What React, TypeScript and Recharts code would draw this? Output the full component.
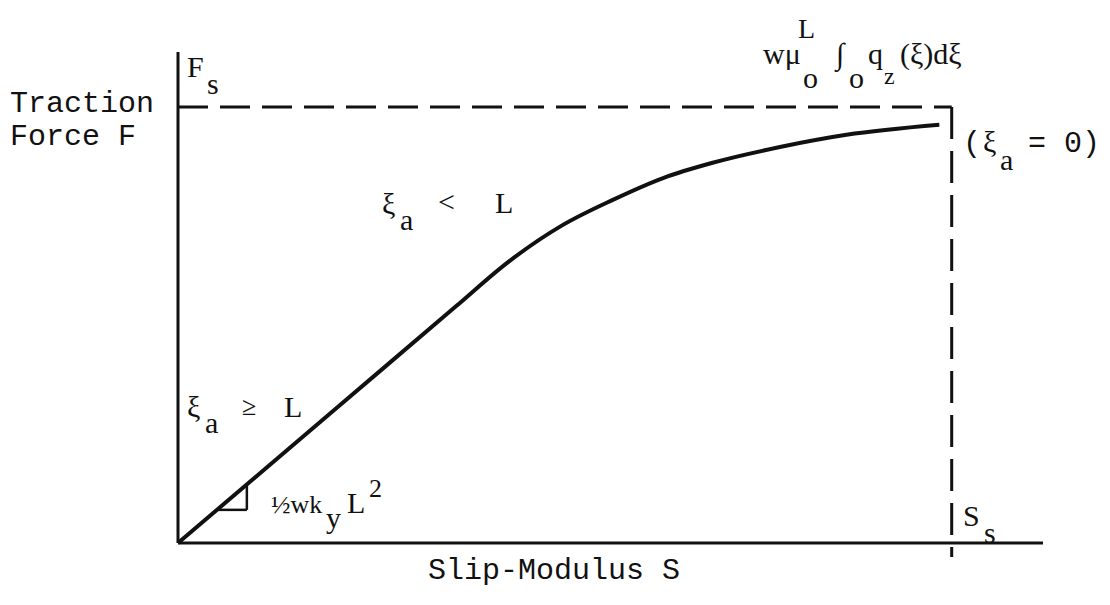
import React from 'react';
import { LineChart, Line, XAxis, YAxis, ReferenceLine } from 'recharts';

// Slip modulus S (normalised to S_s = 1) and traction force F (normalised to F_s = 1)
const slip = [0, 0.2, 0.36, 0.425, 0.497, 0.562, 0.627, 0.691, 0.778, 0.864, 0.984];
const traction = [0, 0.302, 0.544, 0.642, 0.729, 0.787, 0.837, 0.872, 0.908, 0.936, 0.959];

// saturation point (S_s, F_s)
const slipSat = 1;
const forceSat = 1;

// small slope triangle on the linear branch
const triS = [0.05, 0.089];
const triF = [0.076, 0.134];

const data = slip.map((s, i) => ({ s, f: traction[i] }));

const INK = '#111';
const MONO = '"Liberation Mono", "DejaVu Sans Mono", monospace';
const SERIF = '"Liberation Serif", "DejaVu Serif", serif';

function T({
  x,
  y,
  size = 30,
  font = SERIF,
  children,
}: {
  x: number;
  y: number;
  size?: number;
  font?: string;
  children: React.ReactNode;
}) {
  return (
    <text x={x} y={y} fontSize={size} fontFamily={font} fill={INK}>
      {children}
    </text>
  );
}

function Annotations() {
  return (
    <g>
      {/* axis titles */}
      <T x={10} y={112} font={MONO}>Traction</T>
      <T x={10} y={145} font={MONO}>Force F</T>
      <T x={428} y={579} font={MONO}>Slip-Modulus S</T>

      {/* F_s */}
      <T x={187} y={77}>F</T>
      <T x={207} y={94}>s</T>

      {/* S_s */}
      <T x={963} y={526}>S</T>
      <T x={984} y={543}>s</T>

      {/* saturation formula */}
      <T x={798} y={38} size={28}>L</T>
      <T x={763} y={64}>wμ</T>
      <T x={803} y={88}>o</T>
      <T x={836} y={64}>∫</T>
      <T x={849} y={88}>o</T>
      <T x={868} y={64}>q</T>
      <T x={884} y={84} size={24}>z</T>
      <T x={900} y={64}>(ξ)dξ</T>

      {/* (ξa = 0) */}
      <T x={963} y={152} font={MONO}>(</T>
      <T x={983} y={152}>ξ</T>
      <T x={1000} y={170}>a</T>
      <T x={1028} y={152} font={MONO}>=</T>
      <T x={1064} y={152} font={MONO}>0)</T>

      {/* ξa < L */}
      <T x={382} y={214}>ξ</T>
      <T x={400} y={230}>a</T>
      <T x={438} y={212}>&lt;</T>
      <T x={495} y={213}>L</T>

      {/* ξa ≥ L */}
      <T x={187} y={417}>ξ</T>
      <T x={205} y={433}>a</T>
      <T x={242} y={415} size={26}>≥</T>
      <T x={284} y={417}>L</T>

      {/* ½ w k_y L² */}
      <T x={271} y={513} size={26}>½wk</T>
      <T x={326} y={528}>y</T>
      <T x={347} y={513}>L</T>
      <T x={369} y={497} size={26}>2</T>
    </g>
  );
}

export default function App() {
  return (
    <div style={{ position: 'absolute', left: 0, top: 0, background: '#fff' }}>
      <LineChart
        width={1110}
        height={605}
        data={data}
        margin={{ top: 52, right: 67, bottom: 61, left: 177 }}
      >
        <XAxis
          type="number"
          dataKey="s"
          domain={[0, 1.118]}
          height={1}
          tick={false}
          tickLine={false}
          axisLine={{ stroke: INK, strokeWidth: 3 }}
        />
        <YAxis
          type="number"
          domain={[0, 1.126]}
          width={1}
          tick={false}
          tickLine={false}
          axisLine={{ stroke: INK, strokeWidth: 3 }}
        />
        <ReferenceLine
          segment={[
            { x: 0, y: forceSat },
            { x: slipSat, y: forceSat },
          ]}
          stroke={INK}
          strokeWidth={3}
          strokeDasharray="30 12"
          ifOverflow="visible"
        />
        <ReferenceLine
          segment={[
            { x: slipSat, y: forceSat },
            { x: slipSat, y: -0.032 },
          ]}
          stroke={INK}
          strokeWidth={3}
          strokeDasharray="32 12"
          ifOverflow="visible"
        />
        <ReferenceLine
          segment={[
            { x: triS[0], y: triF[0] },
            { x: triS[1], y: triF[0] },
          ]}
          stroke={INK}
          strokeWidth={2.5}
        />
        <ReferenceLine
          segment={[
            { x: triS[1], y: triF[0] },
            { x: triS[1], y: triF[1] },
          ]}
          stroke={INK}
          strokeWidth={2.5}
        />
        <Line
          type="monotone"
          dataKey="f"
          stroke={INK}
          strokeWidth={4}
          dot={false}
          activeDot={false}
          isAnimationActive={false}
        />
        <Annotations />
      </LineChart>
    </div>
  );
}
